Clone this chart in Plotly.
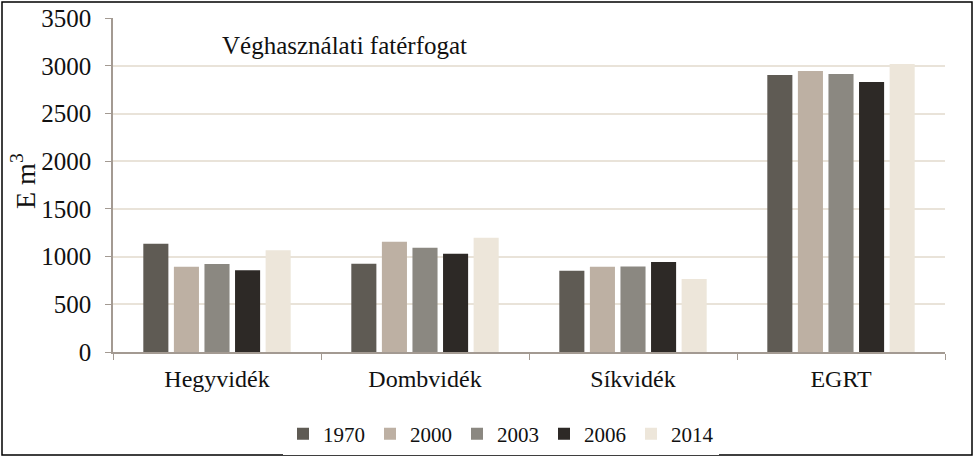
import plotly.graph_objects as go

categories = ["Hegyvidék", "Dombvidék", "Síkvidék", "EGRT"]
years = ["1970", "2000", "2003", "2006", "2014"]
v1970 = [1135, 926, 851, 2904]
v2000 = [894, 1157, 894, 2947]
v2003 = [922, 1093, 897, 2915]
v2006 = [858, 1029, 944, 2830]
v2014 = [1067, 1199, 766, 3020]
series = [v1970, v2000, v2003, v2006, v2014]
colors = ["#5f5b54", "#bdb0a3", "#8b8881", "#2d2926", "#ede6da"]

FONT = "Liberation Serif"
W, H = 975, 460
PL, PR, PT, PB = 113, 945, 18, 352  # plot area in pixels
L, R, T, B = PL, W - PR, PT, H - PB
pw, ph = PR - PL, PB - PT

def px(x):
    return (x - PL) / pw

def py(y):
    return (PB - y) / ph

fig = go.Figure()
for name, vals, col in zip(years, series, colors):
    fig.add_trace(go.Bar(x=categories, y=vals, name=name, marker=dict(color=col, line=dict(width=0))))

fig.update_layout(
    width=W, height=H,
    margin=dict(l=L, r=R, t=T, b=B, autoexpand=False),
    paper_bgcolor="white", plot_bgcolor="white",
    font=dict(family=FONT, size=24, color="#111"),
    barmode="group", bargap=0.265, bargroupgap=0.18,
    showlegend=True,
    legend=dict(orientation="h", x=px(501), xanchor="center", y=py(434), yanchor="middle",
                font=dict(family=FONT, size=21), itemwidth=30, traceorder="normal"),
    xaxis=dict(showline=True, linecolor="#a39a92", linewidth=1.5, ticks="outside",
               tickson="boundaries", ticklen=6, tickcolor="#a39a92", ticklabelstandoff=4,
               tickfont=dict(family=FONT, size=24), showgrid=False),
    yaxis=dict(range=[0, 3502], tickvals=[0, 500, 1000, 1500, 2000, 2500, 3000, 3500],
               showline=True, linecolor="#a39a92", linewidth=1.5,
               ticks="outside", ticklen=6, tickcolor="#a39a92", gridcolor="#e9e3d9", gridwidth=2,
               ticklabelstandoff=9,
               tickfont=dict(family=FONT, size=25), zeroline=False),
    annotations=[
        dict(text="Véghasználati fatérfogat", xref="paper", yref="paper",
             x=px(220), y=py(45), xanchor="left", yanchor="middle",
             showarrow=False, font=dict(family=FONT, size=25, color="#111")),
        dict(text="E m<sup>3</sup>", xref="paper", yref="paper", textangle=-90,
             x=px(23), y=py(181), xanchor="center", yanchor="middle",
             showarrow=False, font=dict(family=FONT, size=28, color="#111")),
    ],
    shapes=[dict(type="rect", xref="paper", yref="paper",
                 x0=px(2), x1=px(972), y0=py(455), y1=py(2),
                 line=dict(color="black", width=1.5), fillcolor="rgba(0,0,0,0)", layer="above")],
)

fig.write_html("out.html", config={"displayModeBar": False},
               post_script="document.body.style.margin='0';")
